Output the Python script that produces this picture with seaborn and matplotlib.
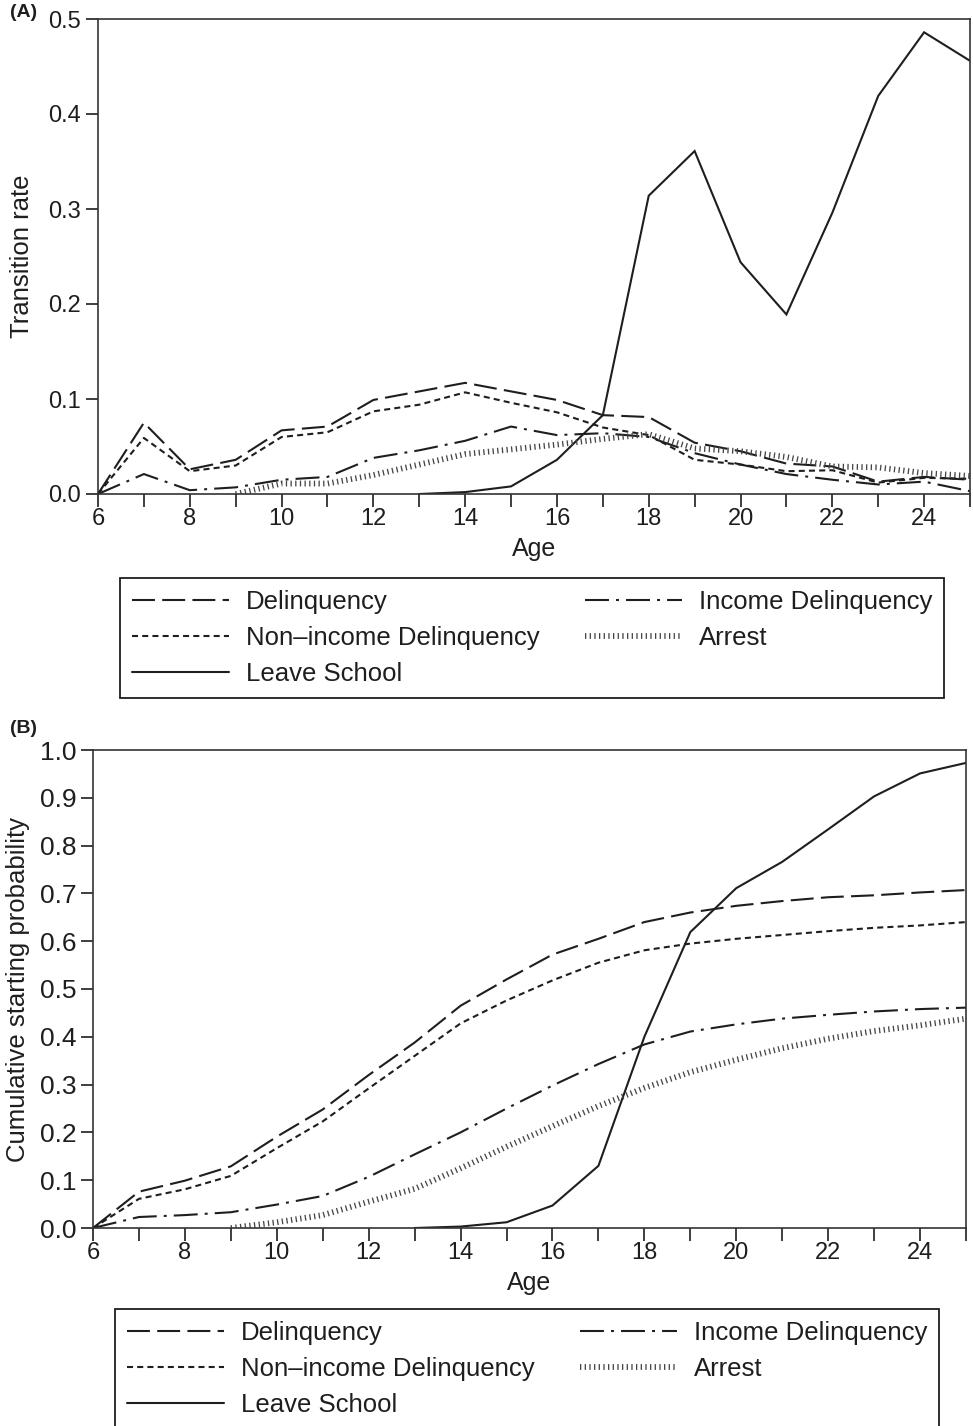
import matplotlib
matplotlib.use("Agg")
import matplotlib.pyplot as plt
from matplotlib.ticker import MultipleLocator, FormatStrFormatter
import seaborn as sns

# ---- data ----
ages = list(range(6, 26))
ages_arrest = list(range(9, 26))
ages_leave = list(range(13, 26))

# (A) transition rates
deliq_rate = [0.0, 0.075, 0.026, 0.036, 0.067, 0.071, 0.099, 0.108, 0.117, 0.108,
              0.099, 0.083, 0.081, 0.054, 0.045, 0.032, 0.029, 0.013, 0.018, 0.015]
nonincome_rate = [0.0, 0.059, 0.024, 0.030, 0.060, 0.065, 0.087, 0.094, 0.107, 0.096,
                  0.086, 0.070, 0.062, 0.036, 0.031, 0.024, 0.025, 0.012, 0.017, 0.016]
income_rate = [0.0, 0.021, 0.004, 0.007, 0.015, 0.018, 0.038, 0.046, 0.056, 0.071,
               0.062, 0.064, 0.060, 0.043, 0.031, 0.021, 0.015, 0.010, 0.013, 0.003]
arrest_rate = [0.0, 0.011, 0.011, 0.020, 0.031, 0.042, 0.047, 0.052, 0.058, 0.063,
               0.048, 0.045, 0.039, 0.029, 0.028, 0.022, 0.019]
leave_rate = [0.0, 0.002, 0.008, 0.036, 0.083, 0.314, 0.361, 0.244, 0.189, 0.296,
              0.419, 0.486, 0.456]

# (B) cumulative starting probabilities
deliq_cum = [0.0, 0.076, 0.099, 0.129, 0.191, 0.248, 0.320, 0.388, 0.465, 0.520,
             0.572, 0.605, 0.640, 0.660, 0.674, 0.684, 0.692, 0.696, 0.702, 0.707]
nonincome_cum = [0.0, 0.061, 0.081, 0.109, 0.167, 0.223, 0.292, 0.360, 0.428, 0.476,
                 0.518, 0.555, 0.581, 0.595, 0.605, 0.613, 0.621, 0.628, 0.633, 0.640]
income_cum = [0.0, 0.023, 0.027, 0.033, 0.049, 0.067, 0.107, 0.154, 0.200, 0.250,
              0.298, 0.343, 0.384, 0.411, 0.426, 0.438, 0.446, 0.453, 0.458, 0.461]
arrest_cum = [0.0, 0.012, 0.027, 0.055, 0.082, 0.125, 0.170, 0.213, 0.255, 0.293,
              0.326, 0.352, 0.376, 0.396, 0.412, 0.424, 0.438]
leave_cum = [0.0, 0.003, 0.012, 0.047, 0.130, 0.400, 0.619, 0.711, 0.766, 0.834,
             0.903, 0.951, 0.973]

labels = ["Delinquency", "Non\u2013income Delinquency", "Leave School",
          "Income Delinquency", "Arrest"]

sns.set_style("ticks")
plt.rcParams["font.family"] = ["Liberation Sans", "DejaVu Sans"]

ink = "#1e1e1e"
styles = {
    "Delinquency": dict(linestyle=(0, (11, 3.5)), lw=1.5, color=ink),
    "Non\u2013income Delinquency": dict(linestyle=(0, (2.9, 2.0)), lw=1.5, color=ink),
    "Leave School": dict(linestyle="-", lw=1.5, color=ink),
    "Income Delinquency": dict(linestyle=(0, (11.5, 3.4, 1.4, 3.4)), lw=1.5, color=ink),
    "Arrest": dict(linestyle=(0, (0.22, 0.58)), lw=4.2, color="#444444"),
}


def draw_panel(ax, series, ylabel, ymax, ylab_x, ytick_size):
    for name, (xs, ys) in series.items():
        sns.lineplot(x=xs, y=ys, ax=ax, label=name, legend=False,
                     dash_capstyle="butt", solid_joinstyle="miter", **styles[name])
    ax.set_xlim(6, 25)
    ax.set_ylim(0, ymax)
    ax.xaxis.set_major_locator(MultipleLocator(2))
    ax.xaxis.set_minor_locator(MultipleLocator(1))
    ax.yaxis.set_major_locator(MultipleLocator(0.1))
    ax.yaxis.set_major_formatter(FormatStrFormatter("%.1f"))
    ax.tick_params(axis="both", which="both", direction="out", length=9, width=1.2,
                   color=ink, labelcolor=ink, top=False, right=False)
    ax.tick_params(axis="x", labelsize=17, pad=1)
    ax.tick_params(axis="y", labelsize=ytick_size, pad=3)
    for sp in ax.spines.values():
        sp.set_visible(True)
        sp.set_linewidth(1.2)
        sp.set_color("#333333")
    ax.set_xlabel("Age", fontsize=18, color=ink, labelpad=5)
    ax.set_ylabel(ylabel, fontsize=18.5, color=ink)
    ax.yaxis.set_label_coords(ylab_x, 0.5)


def add_legend(fig, ax, anchor):
    handles, labs = ax.get_legend_handles_labels()
    order = [labs.index(l) for l in labels]
    leg = fig.legend([handles[i] for i in order], [labs[i] for i in order],
                     loc="upper left", bbox_to_anchor=anchor, ncol=2,
                     frameon=True, fancybox=False, framealpha=1,
                     prop={"size": 18.5},
                     handlelength=3.8, handletextpad=0.66, borderpad=0.45,
                     labelspacing=0.48, columnspacing=1.75, borderaxespad=0)
    leg.get_frame().set_edgecolor(ink)
    leg.get_frame().set_linewidth(1.3)
    for t in leg.get_texts():
        t.set_color(ink)


W, H = 973, 1426
fig = plt.figure(figsize=(W / 100, H / 100), dpi=100)

axA = fig.add_axes([98 / W, 1 - 494 / H, 872 / W, 475 / H])
draw_panel(axA, {
    "Delinquency": (ages, deliq_rate),
    "Non\u2013income Delinquency": (ages, nonincome_rate),
    "Leave School": (ages_leave, leave_rate),
    "Income Delinquency": (ages, income_rate),
    "Arrest": (ages_arrest, arrest_rate),
}, "Transition rate", 0.5, -0.073, 17)
add_legend(fig, axA, (120 / W, 1 - 578 / H))

axB = fig.add_axes([93 / W, 1 - 1228 / H, 873 / W, 478 / H])
draw_panel(axB, {
    "Delinquency": (ages, deliq_cum),
    "Non\u2013income Delinquency": (ages, nonincome_cum),
    "Leave School": (ages_leave, leave_cum),
    "Income Delinquency": (ages, income_cum),
    "Arrest": (ages_arrest, arrest_cum),
}, "Cumulative starting probability", 1.0, -0.072, 19)
add_legend(fig, axB, (115 / W, 1 - 1309 / H))

fig.text(10 / W, 1 - 4 / H, "(A)", fontsize=14, fontweight="bold", va="top", ha="left", color=ink)
fig.text(10 / W, 1 - 720 / H, "(B)", fontsize=14, fontweight="bold", va="top", ha="left", color=ink)

fig.savefig("out.png", dpi=100)
